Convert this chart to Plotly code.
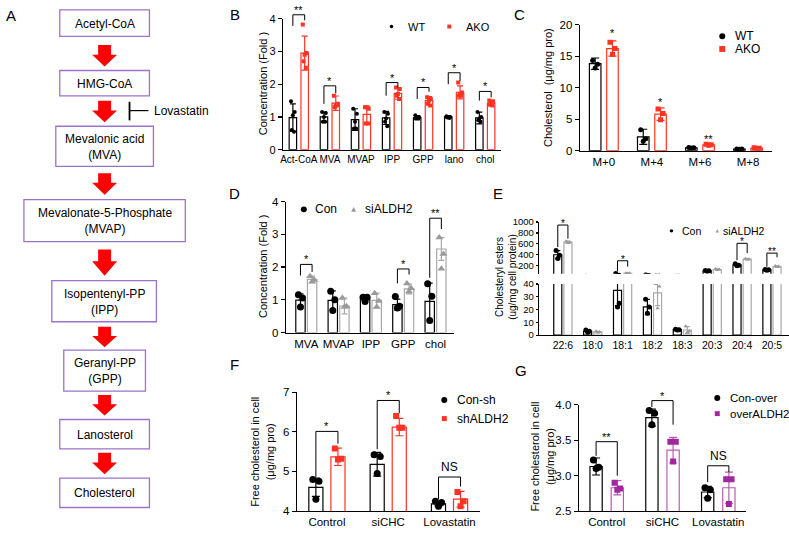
import plotly.graph_objects as go

W, H = 789, 535
FONT = "Liberation Sans, Arial, sans-serif"

# ======================= DATA =======================
# Panel A (pathway)
A_steps = ["Acetyl-CoA", "HMG-CoA", "Mevalonic acid<br>(MVA)", "Mevalonate-5-Phosphate<br>(MVAP)",
           "Isopentenyl-PP<br>(IPP)", "Geranyl-PP<br>(GPP)", "Lanosterol", "Cholesterol"]
A_inhibitor = "Lovastatin"

# Panel B
B_cats = ["Act-CoA", "MVA", "MVAP", "IPP", "GPP", "lano", "chol"]
B_wt_mean = [0.98, 1.0, 0.92, 0.97, 0.98, 1.0, 0.97]
B_wt_sd = [0.42, 0.15, 0.33, 0.20, 0.06, 0.03, 0.18]
B_wt_pts = [[1.48, 1.15, 1.05, 0.60, 0.55], [1.15, 1.12, 1.0, 0.85, 0.85], [1.25, 1.10, 0.85, 0.65, 0.65],
            [1.15, 1.10, 0.95, 0.85, 0.72], [1.05, 1.0, 0.97, 0.95, 0.95], [1.02, 1.0, 1.0, 0.98, 0.97],
            [1.15, 1.0, 0.95, 0.90, 0.85]]
B_ako_mean = [2.95, 1.42, 1.08, 1.72, 1.50, 1.75, 1.42]
B_ako_sd = [0.52, 0.22, 0.25, 0.18, 0.12, 0.20, 0.08]
B_ako_pts = [[3.82, 2.95, 2.90, 2.70, 2.50], [1.65, 1.40, 1.35, 1.30, 1.35], [1.30, 1.25, 1.30, 0.80, 0.80],
             [1.90, 1.85, 1.70, 1.65, 1.55], [1.60, 1.55, 1.50, 1.40, 1.35], [2.05, 1.75, 1.70, 1.65, 1.65],
             [1.50, 1.48, 1.42, 1.38, 1.35]]
B_sig_idx = [0, 1, 3, 4, 5, 6]
B_sig_top = [4.12, 1.95, 2.05, 1.90, 2.35, 1.78]
B_sig_left = [3.78, 1.40, 1.65, 1.55, 2.00, 1.50]
B_sig_right = [3.95, 1.72, 1.90, 1.77, 2.10, 1.60]
B_sig_label = ["**", "*", "*", "*", "*", "*"]
B_yticks = [0, 1, 2, 3, 4]

# Panel C
C_cats = ["M+0", "M+4", "M+6", "M+8"]
C_wt_mean = [13.8, 2.2, 0.46, 0.25]
C_wt_sd = [0.9, 1.2, 0.08, 0.05]
C_wt_pts = [[14.3, 13.7, 13.1], [3.3, 1.9, 1.5], [0.52, 0.45, 0.42], [0.28, 0.25, 0.22]]
C_ako_mean = [16.2, 5.8, 0.93, 0.40]
C_ako_sd = [1.2, 1.0, 0.08, 0.06]
C_ako_pts = [[17.2, 16.2, 15.3], [6.6, 5.9, 4.9], [1.0, 0.95, 0.88], [0.45, 0.40, 0.36]]
C_sig_idx = [0, 1, 2]
C_sig_y = [18.6, 7.7, 1.9]
C_sig_label = ["*", "*", "**"]
C_yticks = [0, 5, 10, 15, 20]

# Panel D
D_cats = ["MVA", "MVAP", "IPP", "GPP", "chol"]
D_con_mean = [0.99, 0.98, 1.02, 0.85, 0.95]
D_con_sd = [0.19, 0.29, 0.07, 0.17, 0.56]
D_con_pts = [[1.15, 1.05, 0.78], [1.26, 1.0, 0.67], [1.08, 1.08, 0.95], [1.10, 0.80, 0.75], [1.49, 1.11, 0.37]]
D_si_mean = [1.62, 0.81, 0.98, 1.33, 2.55]
D_si_sd = [0.10, 0.24, 0.22, 0.15, 0.35]
D_si_pts = [[1.72, 1.60, 1.55], [1.05, 0.80, 0.78], [1.20, 0.96, 0.78], [1.50, 1.35, 1.25], [2.90, 2.40, 1.95]]
D_sig_idx = [0, 3, 4]
D_sig_top = [2.08, 1.94, 3.49]
D_sig_left = [1.74, 1.50, 1.67]
D_sig_right = [1.85, 1.77, 3.16]
D_sig_label = ["*", "*", "**"]
D_yticks = [0, 1, 2, 3, 4]

# Panel E (broken axis)
E_cats = ["22:6", "18:0", "18:1", "18:2", "18:3", "20:3", "20:4", "20:5"]
E_con_mean = [400, 3.0, 35, 22, 4.3, 105, 215, 123]
E_con_sd = [75, 0.8, 12, 6, 0.3, 8, 25, 6]
E_con_pts = [[480, 390, 330], [4.0, 3.0, 2.3], [58, 25, 22], [28, 22, 17], [4.6, 4.3, 4.0],
             [112, 105, 98], [235, 210, 200], [128, 123, 118]]
E_si_mean = [630, 2.5, 60, 33, 4.0, 130, 320, 183]
E_si_sd = [20, 0.5, 3, 10, 2.6, 10, 8, 10]
E_si_pts = [[650, 630, 615], [3.0, 2.5, 2.0], [62, 60, 58], [40, 38, 21], [7, 3, 2],
            [140, 130, 120], [325, 320, 315], [192, 183, 175]]
E_sig_idx = [0, 2, 6, 7]
E_sig_top = [945, 290, 610, 430]
E_sig_left = [540, 93, 300, 180]
E_sig_right = [695, 182, 430, 355]
E_sig_label = ["*", "*", "*", "**"]
E_upper_ticks = [200, 400, 600, 800, 1000]
E_lower_ticks = [0, 10, 20, 30, 40]

# Panel F
F_cats = ["Control", "siCHC", "Lovastatin"]
F_con_mean = [4.60, 5.18, 4.18]
F_con_sd = [0.23, 0.30, 0.05]
F_con_pts = [[4.80, 4.75, 4.30], [5.42, 5.38, 4.95], [4.25, 4.22, 4.12]]
F_sh_mean = [5.37, 6.12, 4.30]
F_sh_sd = [0.22, 0.22, 0.20]
F_sh_pts = [[5.58, 5.32, 5.30], [6.40, 6.10, 6.10], [4.48, 4.25, 4.12]]
F_sig_idx = [0, 1, 2]
F_sig_top = [6.01, 6.79, 4.86]
F_sig_left = [4.86, 5.56, 4.30]
F_sig_right = [5.70, 6.47, 4.62]
F_sig_label = ["*", "*", "NS"]
F_yticks = [4, 5, 6, 7]

# Panel G
G_cats = ["Control", "siCHC", "Lovastatin"]
G_con_mean = [3.13, 3.82, 2.77]
G_con_sd = [0.12, 0.12, 0.08]
G_con_pts = [[3.22, 3.12, 3.10], [3.92, 3.88, 3.72], [2.83, 2.80, 2.68]]
G_ov_mean = [2.83, 3.36, 2.83]
G_ov_sd = [0.10, 0.18, 0.22]
G_ov_pts = [[2.90, 2.82, 2.80], [3.48, 3.48, 3.20], [2.95, 2.95, 2.60]]
G_sig_idx = [0, 1, 2]
G_sig_top = [3.48, 4.06, 3.14]
G_sig_left = [3.28, 3.97, 2.91]
G_sig_right = [3.00, 3.72, 3.05]
G_sig_label = ["**", "*", "NS"]
G_yticks = [2.5, 3.0, 3.5, 4.0]
G_yticktext = ["2.5", "3.0", "3.5", "4.0"]

# ======================= STYLE =======================
BLACK = "black"
RED = "#ff3324"
GRAY_BAR = "#a8a8a8"
GRAY_PT = "#9a9a9a"
PURP_BAR = "#b55db2"
PURP_PT = "#a0279c"
BOX_COL = "#9b74c8"
ARROW_COL = "#ff0000"

Y_RANGES = {"y": [0, 4], "y2": [0, 20], "y3": [0, 4], "y4": [0, 40], "y5": [50, 1000],
            "y6": [4, 7], "y7": [2.5, 4.0]}


def px(x):
    return x / W


def py(y):
    return 1 - y / H


def xdom(x0, x1):
    return [x0 / W, x1 / W]


def ydom(top, bottom):
    return [1 - bottom / H, 1 - top / H]


fig = go.Figure()
shapes = []
annots = []


def ann(x, y, text, size=11, xanchor="center", yanchor="middle", angle=0, color="black", xref="paper", yref="paper"):
    if xref == "paper":
        x = px(x)
    if yref == "paper":
        y = py(y)
    annots.append(dict(x=x, y=y, xref=xref, yref=yref, text=text, showarrow=False, textangle=angle,
                       xanchor=xanchor, yanchor=yanchor, font=dict(family=FONT, size=size, color=color)))


JIT3 = [-0.22, 0.22, 0.0]
JIT5 = [-0.25, 0.25, 0.0, -0.15, 0.15]


def add_series(xa, ya, means, sds, pts, off, width, bar_color, pt_color, symbol, msize, lw=1.2, cap=3):
    n = len(means)
    xs = [i + off for i in range(n)]
    fig.add_trace(go.Bar(x=xs, y=means, width=width, xaxis=xa, yaxis=ya,
                         marker=dict(color="white", line=dict(color=bar_color, width=lw)),
                         error_y=dict(type="data", array=sds, visible=True, color=bar_color, thickness=lw, width=cap),
                         showlegend=False, hoverinfo="skip"))
    xx, yy = [], []
    for i, group in enumerate(pts):
        jit = JIT5 if len(group) == 5 else JIT3
        for j, v in enumerate(group):
            xx.append(i + off + jit[j % len(jit)] * width)
            yy.append(v)
    fig.add_trace(go.Scatter(x=xx, y=yy, mode="markers", xaxis=xa, yaxis=ya, cliponaxis=True,
                             marker=dict(symbol=symbol, size=msize, color=pt_color, line=dict(width=0)),
                             showlegend=False, hoverinfo="skip"))


def add_brackets(xa, ya, idx, top, left, right, labels, off, size=11, lw=1.0, star_shift=-3):
    lo, hi = Y_RANGES[ya]

    def d(v):  # value -> fraction of the y-axis domain (lets brackets rise above the axis top)
        return (v - lo) / (hi - lo)

    for k, i in enumerate(idx):
        x0, x1 = i - off, i + off
        shapes.append(dict(type="path", xref=xa, yref=ya + " domain",
                           path=f"M {x0},{d(left[k])} L {x0},{d(top[k])} L {x1},{d(top[k])} L {x1},{d(right[k])}",
                           line=dict(color="black", width=lw)))
        is_ns = labels[k] == "NS"
        annots.append(dict(x=i, y=d(top[k]), xref=xa, yref=ya + " domain", text=labels[k], showarrow=False,
                           xanchor="center", yanchor="bottom", yshift=1 if is_ns else star_shift,
                           font=dict(family=FONT, size=size + 1 if is_ns else size, color="black")))


def legend_marker(kind, x, y, s, color):
    if kind == "circle":
        shapes.append(dict(type="circle", xref="paper", yref="paper", x0=px(x - s / 2), x1=px(x + s / 2),
                           y0=py(y + s / 2), y1=py(y - s / 2), fillcolor=color, line=dict(width=0)))
    elif kind == "square":
        shapes.append(dict(type="rect", xref="paper", yref="paper", x0=px(x - s / 2), x1=px(x + s / 2),
                           y0=py(y + s / 2), y1=py(y - s / 2), fillcolor=color, line=dict(width=0)))
    else:
        p = f"M {px(x - s / 2)},{py(y + s / 2)} L {px(x + s / 2)},{py(y + s / 2)} L {px(x)},{py(y - s / 2)} Z"
        shapes.append(dict(type="path", xref="paper", yref="paper", path=p, fillcolor=color, line=dict(width=0)))


def yaxis_cfg(domain, rng, tickvals, anchor, size=11, ticktext=None, ticklen=4):
    d = dict(domain=domain, range=rng, tickvals=tickvals, anchor=anchor, showline=True, linecolor="black",
             linewidth=1.2, ticks="outside", ticklen=ticklen, tickwidth=1.2, tickcolor="black", showgrid=False,
             zeroline=False, tickfont=dict(family=FONT, size=size, color="black"), fixedrange=True)
    if ticktext is not None:
        d["ticktext"] = ticktext
    return d


def xaxis_cfg(domain, rng, cats, anchor, size=11, visible=True):
    return dict(domain=domain, range=rng, tickvals=list(range(len(cats))), ticktext=cats, anchor=anchor,
                showline=visible, visible=visible, linecolor="black", linewidth=1.2, ticks="", showgrid=False,
                zeroline=False, tickangle=0, tickfont=dict(family=FONT, size=size, color="black"), fixedrange=True)


# ======================= PANEL A =======================
A_boxes = [(57, 4, 147, 31), (57, 66, 147, 92), (53, 123, 151, 164), (21, 198, 183, 241),
           (49, 281, 154, 323), (61, 352, 143, 394), (57, 423, 147, 453), (57, 483, 147, 513)]
A_arrows = [(40, 62), (97, 119), (171, 193), (249, 276), (328, 349), (398, 419), (457, 479)]
CX = 102
for (x0, y0, x1, y1), label in zip(A_boxes, A_steps):
    shapes.append(dict(type="rect", xref="paper", yref="paper", x0=px(x0), x1=px(x1), y0=py(y1), y1=py(y0),
                       line=dict(color=BOX_COL, width=1.3), fillcolor="white"))
    ann((x0 + x1) / 2, (y0 + y1) / 2 + 0.5, label, size=12)
for t, b in A_arrows:
    mid = t + (b - t) * 0.45
    pts = [(CX - 6.5, t), (CX + 6.5, t), (CX + 6.5, mid), (CX + 12.5, mid), (CX, b), (CX - 12.5, mid),
           (CX - 6.5, mid)]
    path = "M " + " L ".join(f"{px(a)},{py(c)}" for a, c in pts) + " Z"
    shapes.append(dict(type="path", xref="paper", yref="paper", path=path, fillcolor=ARROW_COL,
                       line=dict(width=0)))
shapes.append(dict(type="line", xref="paper", yref="paper", x0=px(127), x1=px(127), y0=py(98), y1=py(117),
                   line=dict(color="black", width=1.8)))
shapes.append(dict(type="line", xref="paper", yref="paper", x0=px(127), x1=px(146), y0=py(107), y1=py(107),
                   line=dict(color="black", width=1.2)))
ann(150, 107, A_inhibitor, size=12, xanchor="left")

# ======================= PANEL B =======================
add_series("x", "y", B_wt_mean, B_wt_sd, B_wt_pts, -0.19, 0.24, BLACK, BLACK, "circle", 4)
add_series("x", "y", B_ako_mean, B_ako_sd, B_ako_pts, 0.19, 0.24, RED, RED, "square", 4)
add_brackets("x", "y", B_sig_idx, B_sig_top, B_sig_left, B_sig_right, B_sig_label, 0.19)

# ======================= PANEL C =======================
add_series("x2", "y2", C_wt_mean, C_wt_sd, C_wt_pts, -0.18, 0.24, BLACK, BLACK, "circle", 5, cap=4)
add_series("x2", "y2", C_ako_mean, C_ako_sd, C_ako_pts, 0.18, 0.24, RED, RED, "square", 5, cap=4)
for k, i in enumerate(C_sig_idx):
    annots.append(dict(x=i + 0.18, y=C_sig_y[k], xref="x2", yref="y2", text=C_sig_label[k], showarrow=False,
                       xanchor="center", yanchor="middle", font=dict(family=FONT, size=11, color="black")))

# ======================= PANEL D =======================
add_series("x3", "y3", D_con_mean, D_con_sd, D_con_pts, -0.18, 0.29, BLACK, BLACK, "circle", 7, cap=3)
add_series("x3", "y3", D_si_mean, D_si_sd, D_si_pts, 0.18, 0.29, GRAY_BAR, GRAY_PT, "triangle-up", 7, cap=3)
add_brackets("x3", "y3", D_sig_idx, D_sig_top, D_sig_left, D_sig_right, D_sig_label, 0.18)

# ======================= PANEL E =======================
for xa, ya in (("x4", "y4"), ("x5", "y5")):
    add_series(xa, ya, E_con_mean, E_con_sd, E_con_pts, -0.17, 0.27, BLACK, BLACK, "circle", 5, cap=2.5)
    add_series(xa, ya, E_si_mean, E_si_sd, E_si_pts, 0.17, 0.27, GRAY_BAR, GRAY_PT, "triangle-up", 4, cap=2.5)
add_brackets("x5", "y5", E_sig_idx, E_sig_top, E_sig_left, E_sig_right, E_sig_label, 0.17, size=10,
             star_shift=-6)

# ======================= PANEL F =======================
add_series("x6", "y6", F_con_mean, F_con_sd, F_con_pts, -0.18, 0.23, BLACK, BLACK, "circle", 7, cap=4)
add_series("x6", "y6", F_sh_mean, F_sh_sd, F_sh_pts, 0.18, 0.23, RED, RED, "square", 6, cap=4)
add_brackets("x6", "y6", F_sig_idx, F_sig_top, F_sig_left, F_sig_right, F_sig_label, 0.18)

# ======================= PANEL G =======================
add_series("x7", "y7", G_con_mean, G_con_sd, G_con_pts, -0.19, 0.22, BLACK, BLACK, "circle", 7, cap=4)
add_series("x7", "y7", G_ov_mean, G_ov_sd, G_ov_pts, 0.19, 0.22, PURP_BAR, PURP_PT, "square", 6, cap=4)
add_brackets("x7", "y7", G_sig_idx, G_sig_top, G_sig_left, G_sig_right, G_sig_label, 0.19)

# ======================= LEGENDS =======================
legend_marker("circle", 390, 21, 3.5, BLACK); ann(405, 21, "WT", size=11, xanchor="left")
legend_marker("square", 448, 21, 4, RED); ann(463, 21, "AKO", size=11, xanchor="left")
legend_marker("circle", 722, 31, 6, BLACK); ann(733, 31, "WT", size=12, xanchor="left")
legend_marker("square", 722, 44, 6, RED); ann(733, 44, "AKO", size=12, xanchor="left")
legend_marker("circle", 302, 208, 6, BLACK); ann(311, 208, "Con", size=12, xanchor="left")
legend_marker("tri", 352, 208, 5, GRAY_PT); ann(361, 208, "siALDH2", size=12, xanchor="left")
legend_marker("circle", 671, 230, 3.5, BLACK); ann(680, 230, "Con", size=10.5, xanchor="left")
legend_marker("tri", 717, 230, 3.5, GRAY_PT); ann(721, 230, "siALDH2", size=10.5, xanchor="left")
legend_marker("circle", 443, 403, 6, BLACK); ann(454, 403, "Con-sh", size=12, xanchor="left")
legend_marker("square", 443, 422, 5, RED); ann(454, 422, "shALDH2", size=12, xanchor="left")
legend_marker("circle", 717, 401, 6, BLACK); ann(728, 401, "Con-over", size=11.5, xanchor="left")
legend_marker("square", 717, 417, 5, PURP_PT); ann(728, 417, "overALDH2", size=11.5, xanchor="left")

# ======================= AXIS TITLES & PANEL LABELS =======================
ann(261, 80, "Concentration (Fold )", size=11, angle=-90)
ann(547, 83, "Cholesterol  (μg/mg pro)", size=11, angle=-90)
ann(261, 267, "Concentration (Fold )", size=11, angle=-90)
ann(505, 277, "Cholesteryl esters<br>(ug/mg cell protein)", size=10, angle=-90)
ann(260, 456, "Free cholesterol in cell<br>(μg/mg pro)", size=11, angle=-90)
ann(541, 461, "Free cholesterol in cell<br>(μg/mg pro)", size=11, angle=-90)
for lab, x, y in (("A", 8, 10), ("B", 233, 9), ("C", 518, 9), ("D", 232, 192), ("E", 497, 192),
                  ("F", 232, 367), ("G", 520, 373)):
    ann(x, y, lab, size=15)

# ======================= LAYOUT =======================
layout = dict(
    width=W, height=H, margin=dict(l=0, r=0, t=0, b=0), paper_bgcolor="white", plot_bgcolor="white",
    barmode="overlay", showlegend=False, font=dict(family=FONT, color="black"),
    xaxis=xaxis_cfg(xdom(281, 500), [-0.51, 6.51], B_cats, "y", size=10),
    yaxis=yaxis_cfg(ydom(13, 147), Y_RANGES["y"], B_yticks, "x"),
    xaxis2=xaxis_cfg(xdom(579, 772), [-0.5, 3.5], C_cats, "y2", size=11.5),
    yaxis2=yaxis_cfg(ydom(19, 148), Y_RANGES["y2"], C_yticks, "x2", size=11.5),
    xaxis3=xaxis_cfg(xdom(284, 453), [-0.63, 4.58], D_cats, "y3", size=11.5),
    yaxis3=yaxis_cfg(ydom(200, 334), Y_RANGES["y3"], D_yticks, "x3", size=11.5),
    xaxis4=xaxis_cfg(xdom(538, 789), [-0.8, 7.57], E_cats, "y4", size=10.5),
    yaxis4=yaxis_cfg(ydom(284.3, 336.7), Y_RANGES["y4"], E_lower_ticks, "x4", size=9.5, ticklen=2),
    xaxis5=xaxis_cfg(xdom(538, 789), [-0.8, 7.57], E_cats, "y5", visible=False),
    yaxis5=yaxis_cfg(ydom(221, 274), Y_RANGES["y5"], E_upper_ticks, "x5", size=9.5, ticklen=2),
    xaxis6=xaxis_cfg(xdom(295, 479), [-0.49, 2.5], F_cats, "y6", size=11.5),
    yaxis6=yaxis_cfg(ydom(395, 516.7), Y_RANGES["y6"], F_yticks, "x6", size=11.5),
    xaxis7=xaxis_cfg(xdom(578, 746), [-0.5, 2.5], G_cats, "y7", size=11.5),
    yaxis7=yaxis_cfg(ydom(408, 516.7), Y_RANGES["y7"], G_yticks, "x7", size=11.5, ticktext=G_yticktext),
    shapes=shapes, annotations=annots,
)
fig.update_layout(**layout)
fig.write_html("out.html", config={"displayModeBar": False, "staticPlot": True},
               post_script="document.body.style.margin='0';document.body.style.padding='0';")
